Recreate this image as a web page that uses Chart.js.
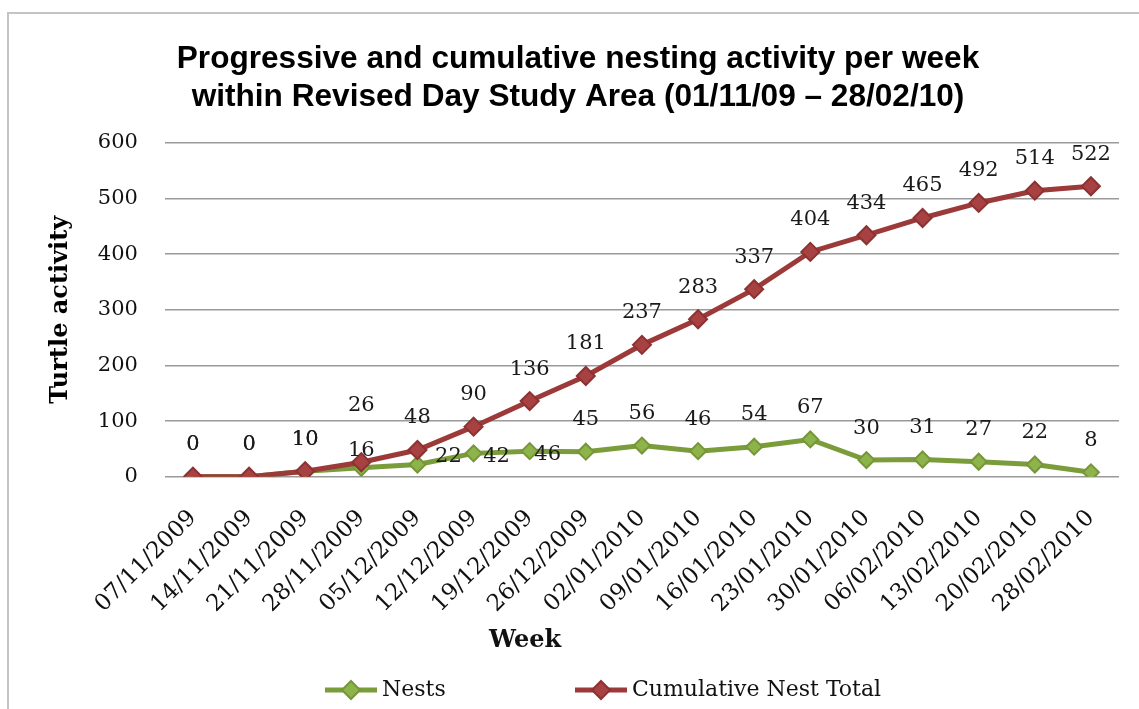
<!DOCTYPE html>
<html>
<head>
<meta charset="utf-8">
<title>Nesting activity per week</title>
<script src="https://cdn.jsdelivr.net/npm/chart.js@4.4.1/dist/chart.umd.min.js"></script>
<style>
  html, body { margin: 0; padding: 0; background: #fff; overflow: hidden; }
  #frame {
    position: absolute; left: 7px; top: 12px; width: 1300px; height: 900px;
    border-left: 2px solid #c4c4c4; border-top: 2px solid #c4c4c4;
  }
  #wrap { position: absolute; left: 0; top: 0; width: 1139px; height: 709px; }
</style>
</head>
<body>
<div id="frame"></div>
<div id="wrap"><canvas id="nestChart"></canvas></div>
<script>
// Weeks on the x axis
const weeks = ['07/11/2009', '14/11/2009', '21/11/2009', '28/11/2009', '05/12/2009', '12/12/2009',
    '19/12/2009', '26/12/2009', '02/01/2010', '09/01/2010', '16/01/2010', '23/01/2010',
    '30/01/2010', '06/02/2010', '13/02/2010', '20/02/2010', '28/02/2010'];

// Nests per week and running total
const nests = [0, 0, 10, 16, 22, 42, 46, 45, 56, 46, 54, 67, 30, 31, 27, 22, 8];
const cumulative = [0, 0, 10, 26, 48, 90, 136, 181, 237, 283, 337, 404, 434, 465, 492, 514, 522];

// Y axis tick labels
const yTicks = [0, 100, 200, 300, 400, 500, 600];

const serif = '"DejaVu Serif", "Liberation Serif", serif';
const green = { line: '#7b9c3b', fill: '#8db44b', edge: '#769638' };
const red = { line: '#9c3a3a', fill: '#a84141', edge: '#8d3232' };

// where each value label sits relative to its point (default is just above)
const labelNudge = [
    { 3: [0, -17], 4: [31, -8], 5: [23, 3], 6: [18, 3] }, // Nests
    { 3: [0, -57] }                                        // Cumulative
];

// little line + diamond picture used in the legend
function legendSymbol(c) {
    const cv = document.createElement('canvas');
    cv.width = 52; cv.height = 22;
    const g = cv.getContext('2d');
    g.strokeStyle = c.line; g.lineWidth = 5;
    g.beginPath(); g.moveTo(0, 11); g.lineTo(52, 11); g.stroke();
    g.beginPath();
    g.moveTo(26, 2); g.lineTo(35, 11); g.lineTo(26, 20); g.lineTo(17, 11); g.closePath();
    g.fillStyle = c.fill; g.fill();
    g.strokeStyle = c.edge; g.lineWidth = 2; g.stroke();
    return cv;
}

const extrasPlugin = {
    id: 'extras',
    afterDatasetsDraw(chart) {
        const ctx = chart.ctx;
        ctx.save();
        ctx.font = '21px ' + serif;
        ctx.fillStyle = '#1a1a1a';
        ctx.textAlign = 'center';
        ctx.textBaseline = 'middle';
        chart.data.datasets.forEach((ds, di) => {
            const meta = chart.getDatasetMeta(di);
            meta.data.forEach((pt, i) => {
                const [dx, dy] = labelNudge[di][i] || [0, -32];
                ctx.fillText(ds.data[i], pt.x + dx, pt.y + dy);
            });
        });
        ctx.restore();
    },
    afterDraw(chart) {
        const ctx = chart.ctx;
        ctx.save();
        ctx.fillStyle = '#111';
        ctx.textBaseline = 'middle';
        // x axis title
        ctx.font = 'bold 24px ' + serif;
        ctx.textAlign = 'center';
        ctx.fillText('Week', 525, 641);
        // legend
        ctx.font = '22px ' + serif;
        ctx.textAlign = 'left';
        const items = [
            { x: 325, c: green, text: chart.data.datasets[0].label },
            { x: 575, c: red, text: chart.data.datasets[1].label }
        ];
        items.forEach(it => {
            ctx.drawImage(legendSymbol(it.c), it.x, 679);
            ctx.fillText(it.text, it.x + 57, 690);
        });
        ctx.restore();
    }
};

const ctx = document.getElementById('nestChart').getContext('2d');
const nestChart = new Chart(ctx, {
    type: 'line',
    data: {
        labels: weeks,
        datasets: [{
            label: 'Nests',
            data: nests,
            borderColor: green.line,
            borderWidth: 5,
            pointStyle: 'rectRot',
            pointRadius: 8,
            pointBackgroundColor: green.fill,
            pointBorderColor: green.edge,
            pointBorderWidth: 2,
            order: 1
        }, {
            label: 'Cumulative Nest Total',
            data: cumulative,
            borderColor: red.line,
            borderWidth: 5,
            pointStyle: 'rectRot',
            pointRadius: 9,
            pointBackgroundColor: red.fill,
            pointBorderColor: red.edge,
            pointBorderWidth: 2,
            order: 0
        }]
    },
    options: {
        responsive: true,
        maintainAspectRatio: false,
        animation: false,
        layout: { padding: { top: 40, left: 36, right: 19, bottom: 63 } },
        plugins: {
            legend: { display: false },
            tooltip: { enabled: false },
            title: {
                display: true,
                text: ['Progressive and cumulative nesting activity per week',
                       'within Revised Day Study Area (01/11/09 \u2013 28/02/10)'],
                color: '#000',
                font: { family: '"Liberation Sans", Arial, sans-serif', size: 31.6, weight: 'bold', lineHeight: 1.2 },
                padding: { top: 0, bottom: 27 }
            }
        },
        scales: {
            x: {
                offset: true,
                grid: { display: false, drawTicks: false },
                border: { display: false },
                ticks: {
                    autoSkip: false, minRotation: 45, maxRotation: 45, padding: 28,
                    color: '#111', font: { family: serif, size: 23 }
                },
                // rotated labels may hang left of the plot; don't let them push it right
                afterFit: scale => { scale.paddingLeft = 0; }
            },
            y: {
                min: yTicks[0],
                max: yTicks[yTicks.length - 1],
                grid: { color: '#9a9a9a', lineWidth: 1.5, drawTicks: false },
                border: { display: false },
                ticks: {
                    stepSize: yTicks[1] - yTicks[0], padding: 27,
                    color: '#111', font: { family: serif, size: 21 }
                },
                title: {
                    display: true, text: 'Turtle activity', color: '#000',
                    font: { family: serif, size: 24, weight: 'bold' },
                    padding: { top: 10, bottom: -4 }
                }
            }
        }
    },
    plugins: [extrasPlugin]
});
</script>
</body>
</html>
